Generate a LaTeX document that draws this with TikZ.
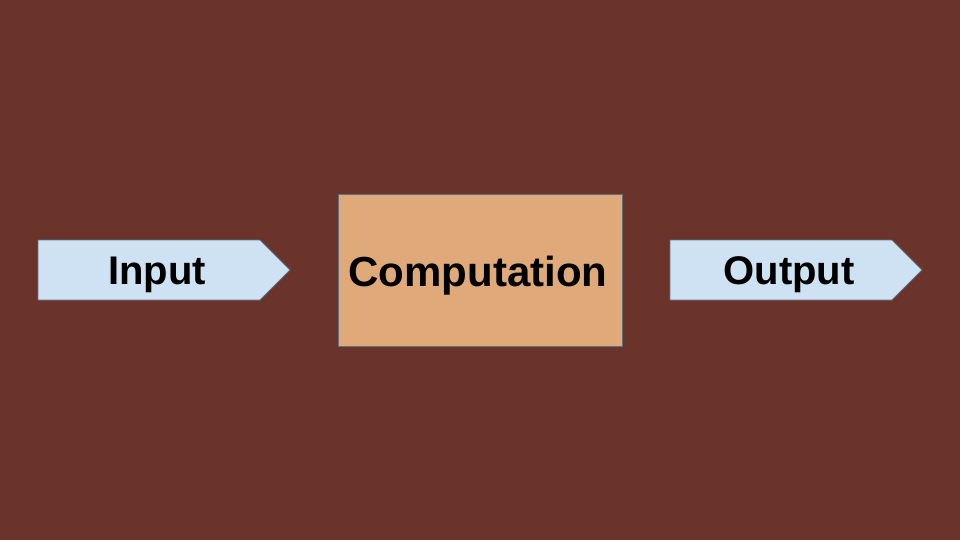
\documentclass[tikz,border=0pt]{standalone}
\usepackage{fontspec}
\setmainfont{Liberation Sans}
\definecolor{bg}{HTML}{6B342A}
\definecolor{arrowfill}{HTML}{CFE2F3}
\definecolor{boxfill}{HTML}{E0A979}
\definecolor{edge}{HTML}{5F7080}
\begin{document}
\begin{tikzpicture}[x=1pt,y=-1pt,
  arrowshape/.style={fill=arrowfill,draw=edge,line width=0.8pt,line join=miter},
  compbox/.style={fill=boxfill,draw=edge,line width=0.8pt},
  lbl/.style={font=\fontsize{40}{48}\selectfont\bfseries,text=black,inner sep=0pt,anchor=base},
  biglbl/.style={font=\fontsize{42}{50}\selectfont\bfseries,text=black,inner sep=0pt,anchor=base}]
\useasboundingbox (0,0) rectangle (960,540);
\fill[bg] (0,0) rectangle (960,540);
% Input arrow
\draw[arrowshape] (38,240) -- (260,240) -- (290,270) -- (260,300) -- (38,300) -- cycle;
\node[lbl] (input) at (157,284) {Input};
% Computation box
\draw[compbox] (338,194) rectangle (622,346);
\node[biglbl] (comp) at (478,286) {Computation};
% Output arrow
\draw[arrowshape] (670,240) -- (892,240) -- (922,270) -- (892,300) -- (670,300) -- cycle;
\node[lbl] (output) at (789,284) {Output};
\end{tikzpicture}
\end{document}
